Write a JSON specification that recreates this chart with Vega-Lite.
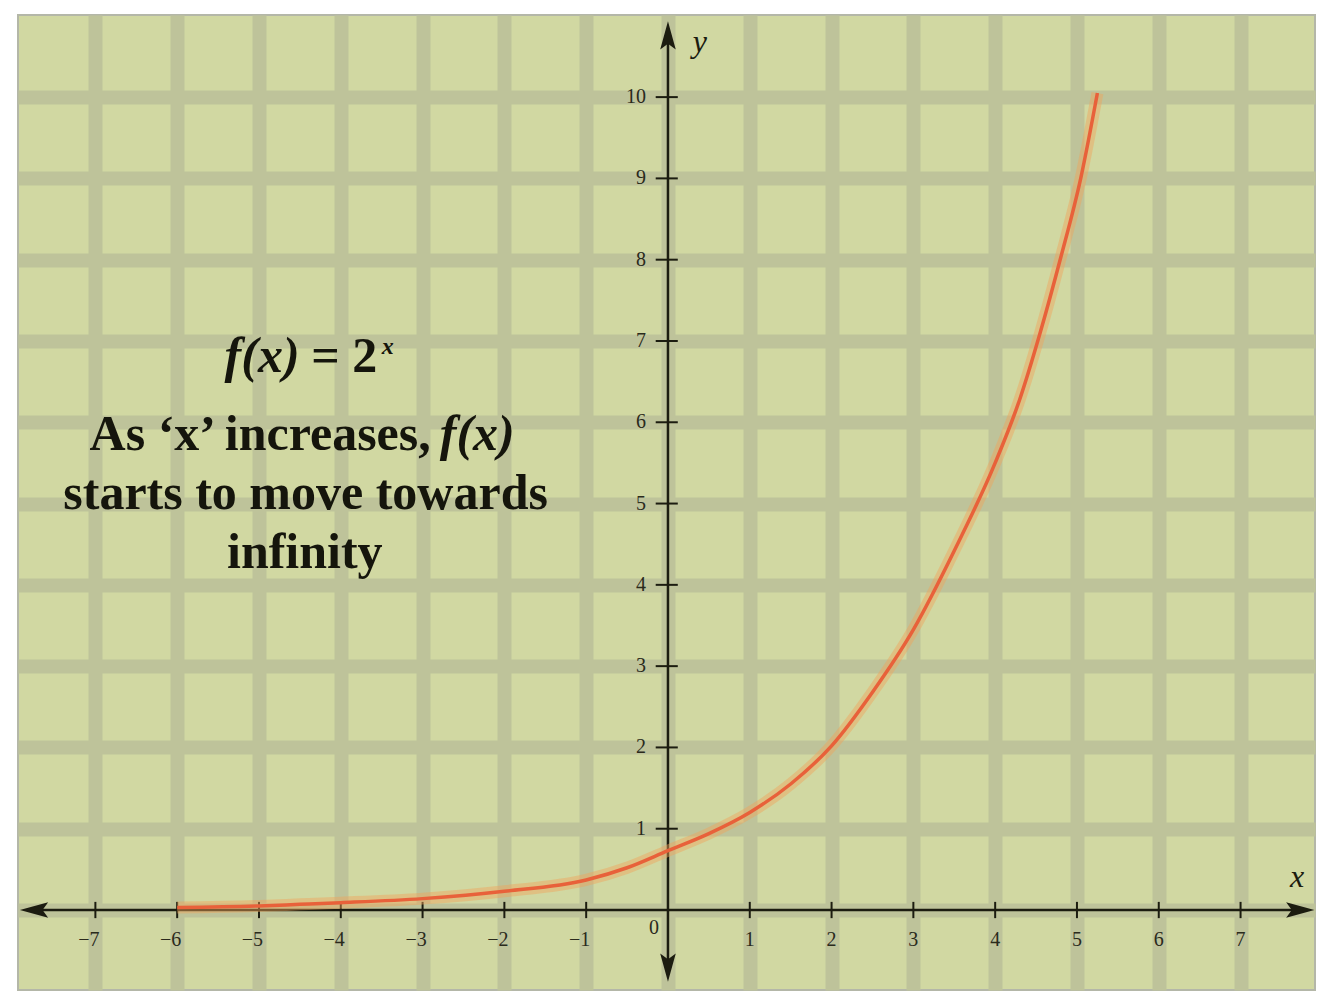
{
  "$schema": "https://vega.github.io/schema/vega-lite/v6.json",
  "width": 1327,
  "height": 996,
  "autosize": {"type": "fit", "contains": "padding"},
  "padding": {"left": 18, "top": 15, "right": 12, "bottom": 6},
  "background": "#ffffff",
  "config": {
    "view": {"fill": "#d1d8a2", "stroke": "#b4b7a8", "strokeWidth": 2},
    "axis": {"gridCap": "butt"}
  },
  "datasets": {
    "curve": [
      {"x": -6.0, "y": 0.03}, {"x": -5.0, "y": 0.05}, {"x": -4.5, "y": 0.07},
      {"x": -4.0, "y": 0.09}, {"x": -3.0, "y": 0.14}, {"x": -2.0, "y": 0.23},
      {"x": -1.0, "y": 0.37}, {"x": -0.5, "y": 0.52}, {"x": 0.0, "y": 0.73},
      {"x": 0.5, "y": 0.94}, {"x": 1.0, "y": 1.2}, {"x": 1.5, "y": 1.55},
      {"x": 2.0, "y": 2.02}, {"x": 2.5, "y": 2.68}, {"x": 3.0, "y": 3.45},
      {"x": 3.5, "y": 4.42}, {"x": 4.0, "y": 5.5}, {"x": 4.3, "y": 6.28},
      {"x": 4.55, "y": 7.1}, {"x": 4.8, "y": 8.02}, {"x": 5.05, "y": 9.02},
      {"x": 5.25, "y": 10.05}
    ],
    "axes": [
      {"x": -7.8, "x2": 7.75, "y": 0, "y2": 0},
      {"x": 0, "x2": 0, "y": -0.75, "y2": 10.8}
    ],
    "ticks": [
      {"x": -7, "x2": -7, "y": -0.1, "y2": 0.1}, {"x": -6, "x2": -6, "y": -0.1, "y2": 0.1},
      {"x": -5, "x2": -5, "y": -0.1, "y2": 0.1}, {"x": -4, "x2": -4, "y": -0.1, "y2": 0.1},
      {"x": -3, "x2": -3, "y": -0.1, "y2": 0.1}, {"x": -2, "x2": -2, "y": -0.1, "y2": 0.1},
      {"x": -1, "x2": -1, "y": -0.1, "y2": 0.1}, {"x": 1, "x2": 1, "y": -0.1, "y2": 0.1},
      {"x": 2, "x2": 2, "y": -0.1, "y2": 0.1}, {"x": 3, "x2": 3, "y": -0.1, "y2": 0.1},
      {"x": 4, "x2": 4, "y": -0.1, "y2": 0.1}, {"x": 5, "x2": 5, "y": -0.1, "y2": 0.1},
      {"x": 6, "x2": 6, "y": -0.1, "y2": 0.1}, {"x": 7, "x2": 7, "y": -0.1, "y2": 0.1},
      {"x": -0.15, "x2": 0.12, "y": 1, "y2": 1}, {"x": -0.15, "x2": 0.12, "y": 2, "y2": 2},
      {"x": -0.15, "x2": 0.12, "y": 3, "y2": 3}, {"x": -0.15, "x2": 0.12, "y": 4, "y2": 4},
      {"x": -0.15, "x2": 0.12, "y": 5, "y2": 5}, {"x": -0.15, "x2": 0.12, "y": 6, "y2": 6},
      {"x": -0.15, "x2": 0.12, "y": 7, "y2": 7}, {"x": -0.15, "x2": 0.12, "y": 8, "y2": 8},
      {"x": -0.15, "x2": 0.12, "y": 9, "y2": 9}, {"x": -0.15, "x2": 0.12, "y": 10, "y2": 10}
    ],
    "arrows": [
      {"x": -7.75, "y": 0, "dir": "left"},
      {"x": 7.73, "y": 0, "dir": "right"},
      {"x": 0, "y": 10.76, "dir": "up"},
      {"x": 0, "y": -0.71, "dir": "down"}
    ],
    "xlabels": [
      {"x": -7.08, "y": -0.37, "label": "−7"}, {"x": -6.08, "y": -0.37, "label": "−6"},
      {"x": -5.08, "y": -0.37, "label": "−5"}, {"x": -4.08, "y": -0.37, "label": "−4"},
      {"x": -3.08, "y": -0.37, "label": "−3"}, {"x": -2.08, "y": -0.37, "label": "−2"},
      {"x": -1.08, "y": -0.37, "label": "−1"}, {"x": -0.17, "y": -0.22, "label": "0"},
      {"x": 1, "y": -0.37, "label": "1"}, {"x": 2, "y": -0.37, "label": "2"},
      {"x": 3, "y": -0.37, "label": "3"}, {"x": 4, "y": -0.37, "label": "4"},
      {"x": 5, "y": -0.37, "label": "5"}, {"x": 6, "y": -0.37, "label": "6"},
      {"x": 7, "y": -0.37, "label": "7"}
    ],
    "ylabels": [
      {"x": -0.27, "y": 1, "label": "1"}, {"x": -0.27, "y": 2, "label": "2"},
      {"x": -0.27, "y": 3, "label": "3"}, {"x": -0.27, "y": 4, "label": "4"},
      {"x": -0.27, "y": 5, "label": "5"}, {"x": -0.27, "y": 6, "label": "6"},
      {"x": -0.27, "y": 7, "label": "7"}, {"x": -0.27, "y": 8, "label": "8"},
      {"x": -0.27, "y": 9, "label": "9"}, {"x": -0.27, "y": 10, "label": "10"}
    ],
    "notes": [
      {"x": -4.43, "y": 5.12, "label": "starts to move towards"},
      {"x": -4.44, "y": 4.39, "label": "infinity"}
    ],
    "notesRight": [
      {"x": -2.9, "y": 5.84, "label": "As ‘x’ increases,"}
    ],
    "eq": [
      {"x": -4.36, "y": 6.8, "label": "= 2"}
    ],
    "italics": [
      {"x": -5.42, "y": 6.8, "label": "f(x)"},
      {"x": -2.79, "y": 5.84, "label": "f(x)"}
    ],
    "sup": [{"x": -3.5, "y": 6.93, "label": "x"}],
    "axletters": [
      {"x": 0.39, "y": 10.68, "label": "y"},
      {"x": 7.69, "y": 0.4, "label": "x"}
    ]
  },
  "encoding": {
    "x": {
      "field": "x", "type": "quantitative",
      "scale": {"domain": [-7.946, 7.91], "nice": false, "zero": false},
      "axis": {"grid": true, "gridColor": "#bec39a", "gridWidth": 14, "values": [-7, -6, -5, -4, -3, -2, -1, 0, 1, 2, 3, 4, 5, 6, 7], "labels": false, "ticks": false, "domain": false, "title": null, "labelPadding": 0}
    },
    "y": {
      "field": "y", "type": "quantitative",
      "scale": {"domain": [-0.984, 11.01], "nice": false, "zero": false},
      "axis": {"grid": true, "gridColor": "#bec39a", "gridWidth": 14, "values": [0, 1, 2, 3, 4, 5, 6, 7, 8, 9, 10], "labels": false, "ticks": false, "domain": false, "title": null, "labelPadding": 0}
    }
  },
  "layer": [
    {
      "data": {"name": "axes"},
      "mark": {"type": "rule", "color": "#1c1c10", "strokeWidth": 2.5},
      "encoding": {"x2": {"field": "x2"}, "y2": {"field": "y2"}}
    },
    {
      "data": {"name": "ticks"},
      "mark": {"type": "rule", "color": "#1c1c10", "strokeWidth": 2},
      "encoding": {"x2": {"field": "x2"}, "y2": {"field": "y2"}}
    },
    {
      "data": {"name": "arrows"},
      "mark": {"type": "point", "filled": true, "color": "#1c1c10", "opacity": 1, "size": 800},
      "encoding": {
        "shape": {
          "field": "dir", "type": "nominal", "legend": null,
          "scale": {
            "domain": ["left", "right", "up", "down"],
            "range": ["M1,-0.55L-1,0L1,0.55L0.6,0Z", "M-1,-0.55L1,0L-1,0.55L-0.6,0Z", "M-0.55,1L0,-1L0.55,1L0,0.6Z", "M-0.55,-1L0,1L0.55,-1L0,-0.6Z"]
          }
        }
      }
    },
    {
      "data": {"name": "curve"},
      "mark": {"type": "line", "color": "#f0a45c", "strokeWidth": 12, "opacity": 0.45, "interpolate": "monotone"}
    },
    {
      "data": {"name": "curve"},
      "mark": {"type": "line", "color": "#e8613a", "strokeWidth": 3.5, "interpolate": "monotone"}
    },
    {
      "data": {"name": "xlabels"},
      "mark": {"type": "text", "font": "Liberation Serif", "fontSize": 20, "color": "#2a2a1c", "align": "center", "baseline": "middle"},
      "encoding": {"text": {"field": "label"}}
    },
    {
      "data": {"name": "ylabels"},
      "mark": {"type": "text", "font": "Liberation Serif", "fontSize": 20, "color": "#2a2a1c", "align": "right", "baseline": "middle"},
      "encoding": {"text": {"field": "label"}}
    },
    {
      "data": {"name": "notes"},
      "mark": {"type": "text", "font": "Liberation Serif", "fontSize": 50, "fontWeight": "bold", "color": "#15150c", "align": "center", "baseline": "middle"},
      "encoding": {"text": {"field": "label"}}
    },
    {
      "data": {"name": "notesRight"},
      "mark": {"type": "text", "font": "Liberation Serif", "fontSize": 50, "fontWeight": "bold", "color": "#15150c", "align": "right", "baseline": "middle"},
      "encoding": {"text": {"field": "label"}}
    },
    {
      "data": {"name": "eq"},
      "mark": {"type": "text", "font": "Liberation Serif", "fontSize": 50, "fontWeight": "bold", "color": "#15150c", "align": "left", "baseline": "middle"},
      "encoding": {"text": {"field": "label"}}
    },
    {
      "data": {"name": "italics"},
      "mark": {"type": "text", "font": "Liberation Serif", "fontSize": 50, "fontWeight": "bold", "fontStyle": "italic", "color": "#15150c", "align": "left", "baseline": "middle"},
      "encoding": {"text": {"field": "label"}}
    },
    {
      "data": {"name": "sup"},
      "mark": {"type": "text", "font": "Liberation Serif", "fontSize": 24, "fontWeight": "bold", "fontStyle": "italic", "color": "#15150c", "align": "left", "baseline": "middle"},
      "encoding": {"text": {"field": "label"}}
    },
    {
      "data": {"name": "axletters"},
      "mark": {"type": "text", "font": "Liberation Serif", "fontSize": 32, "fontStyle": "italic", "color": "#1c1c10", "align": "center", "baseline": "middle"},
      "encoding": {"text": {"field": "label"}}
    }
  ]
}
